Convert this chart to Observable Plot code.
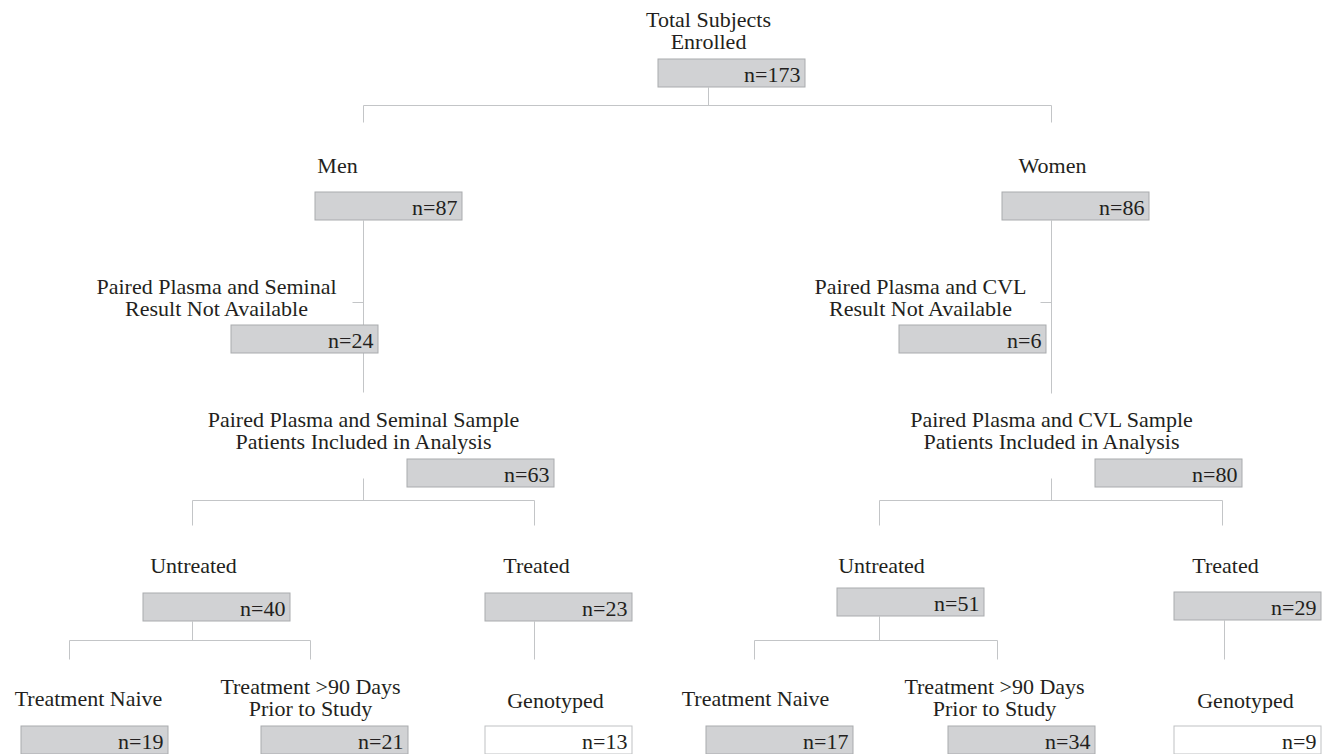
<!DOCTYPE html>
<html>
<head>
<meta charset="utf-8">
<script src="https://cdn.jsdelivr.net/npm/d3@7"></script>
<script src="https://cdn.jsdelivr.net/npm/@observablehq/plot@0.6"></script>
<style>
  html, body { margin: 0; padding: 0; background: #ffffff; }
  #chart svg { display: block; }
</style>
</head>
<body>
<div id="chart"></div>
<script>
// ---- Data: flow chart nodes ----
const labels = [
  "Total Subjects\nEnrolled",
  "Men",
  "Women",
  "Paired Plasma and Seminal\nResult Not Available",
  "Paired Plasma and Seminal Sample\nPatients Included in Analysis",
  "Paired Plasma and CVL\nResult Not Available",
  "Paired Plasma and CVL Sample\nPatients Included in Analysis",
  "Untreated",
  "Treated",
  "Untreated",
  "Treated",
  "Treatment Naive",
  "Treatment >90 Days\nPrior to Study",
  "Genotyped",
  "Treatment Naive",
  "Treatment >90 Days\nPrior to Study",
  "Genotyped"
];
const counts = [173, 87, 86, 24, 63, 6, 80, 40, 23, 51, 29, 19, 21, 13, 17, 34, 9];
const genotyped = [false, false, false, false, false, false, false, false, false, false, false, false, false, true, false, false, true];

// ---- Layout (pixel positions of the diagram) ----
const labelX = [708, 337, 1052, 216, 363, 920, 1051, 193, 536, 881, 1225, 88, 310, 555, 755, 994, 1245];
const labelY = [30.5, 165, 165, 297, 430.5, 297, 430.5, 565, 565, 565, 565, 698, 697.5, 700, 698, 697.5, 700];
const boxLeft = [658, 315, 1002, 231, 407, 899, 1095, 143, 485, 837, 1174, 21, 261, 485, 706, 948, 1174];
const boxTop  = [59, 192, 192, 325, 459, 325, 459, 593, 593, 588, 592, 726, 726, 726, 726, 726, 726];
const boxW = 147, boxH = 28;

// splits: stem from (x, yTop) to bus at busY, bus spans children xs, drops down to dropY
const splits = [
  {x: 708,  y: 87,  busY: 105, kids: [363, 1051], dropY: 122},
  {x: 363,  y: 478, busY: 500, kids: [192, 534],  dropY: 525},
  {x: 1051, y: 478, busY: 500, kids: [879, 1222], dropY: 525},
  {x: 192,  y: 621, busY: 640, kids: [69, 310],   dropY: 659},
  {x: 879,  y: 616, busY: 640, kids: [754, 997],  dropY: 659}
];
// straight stems [x, yTop, yBottom]
const stems = [[363, 220, 392], [1051, 220, 393], [534, 621, 659], [1224, 620, 659]];
// side ticks to excluded groups [xLeft, xRight, y]
const ticks = [[352, 363, 302], [1040, 1051, 302]];

// ---- Build tables ----
const nodes = labels.map((label, i) => ({
  label,
  n: "n=" + counts[i],
  white: genotyped[i],
  lx: labelX[i], ly: labelY[i],
  x1: boxLeft[i], x2: boxLeft[i] + boxW,
  y1: boxTop[i], y2: boxTop[i] + boxH
}));

const segs = [];
for (const s of splits) {
  segs.push({x1: s.x, y1: s.y, x2: s.x, y2: s.busY});
  segs.push({x1: d3.min(s.kids), y1: s.busY, x2: d3.max(s.kids), y2: s.busY});
  for (const k of s.kids) segs.push({x1: k, y1: s.busY, x2: k, y2: s.dropY});
}
for (const [x, a, b] of stems) segs.push({x1: x, y1: a, x2: x, y2: b});
for (const [a, b, y] of ticks) segs.push({x1: a, y1: y, x2: b, y2: y});

const font = "'Liberation Serif', 'Times New Roman', Times, serif";
const ink = "#231f20";

const chart = Plot.plot({
  width: 1324,
  height: 754,
  margin: 0,
  x: {domain: [0, 1324], range: [0, 1324], axis: null},
  y: {domain: [0, 754], range: [0, 754], axis: null},
  style: {background: "#ffffff"},
  marks: [
    Plot.link(segs, {x1: "x1", y1: "y1", x2: "x2", y2: "y2", stroke: "#c3c5c7", strokeWidth: 1}),
    Plot.rect(nodes, {
      x1: "x1", x2: "x2", y1: "y1", y2: "y2",
      fill: d => d.white ? "#ffffff" : "#d1d2d4",
      stroke: d => d.white ? "#bfc1c3" : "#a9abae",
      strokeWidth: 1
    }),
    Plot.text(nodes, {
      x: "lx", y: "ly", text: "label",
      fontFamily: font, fontSize: 22, lineHeight: 1.0,
      fill: ink, textAnchor: "middle", lineAnchor: "middle"
    }),
    Plot.text(nodes, {
      x: d => d.x2 - 5, y: d => d.y1 + 15, text: "n",
      fontFamily: font, fontSize: 22,
      fill: ink, textAnchor: "end", lineAnchor: "middle"
    })
  ]
});
document.getElementById("chart").append(chart);
</script>
</body>
</html>
